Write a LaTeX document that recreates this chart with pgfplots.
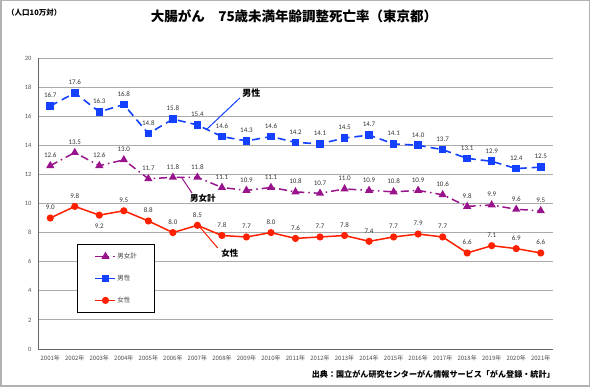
\documentclass[border=0pt]{standalone}
\usepackage{fontspec}
\setmainfont{Carlito}
\newfontfamily\cjk{Noto Sans CJK JP}
\usepackage{pgfplots}
\pgfplotsset{compat=1.18}
\usepackage{pgfplotstable}
\definecolor{cPur}{RGB}{153,20,140}
\definecolor{cBlu}{RGB}{20,64,255}
\definecolor{cRed}{RGB}{255,32,0}
\definecolor{cGrid}{RGB}{170,170,170}
\definecolor{cFrame}{RGB}{178,178,178}

\pgfplotstableread{
x y dy
0 12.6 10.5
1 13.5 10.5
2 12.6 10.5
3 13.0 10.5
4 11.7 10.5
5 11.8 10.5
6 11.8 10.5
7 11.1 10.5
8 10.9 10.5
9 11.1 10.5
10 10.8 10.5
11 10.7 10.5
12 11.0 10.5
13 10.9 10.5
14 10.8 10.5
15 10.9 10.5
16 10.6 10.5
17 9.8 10.5
18 9.9 10.5
19 9.6 10.5
20 9.5 10.5
}\total

\pgfplotstableread{
x y dy
0 16.7 10.5
1 17.6 10.5
2 16.3 10.5
3 16.8 10.5
4 14.8 10.5
5 15.8 10.5
6 15.4 10.5
7 14.6 10.5
8 14.3 10.5
9 14.6 10.5
10 14.2 10.5
11 14.1 10.5
12 14.5 10.5
13 14.7 10.5
14 14.1 10.5
15 14.0 10.5
16 13.7 10.5
17 13.1 10.5
18 12.9 10.5
19 12.4 10.5
20 12.5 10.5
}\male

\pgfplotstableread{
x y dy
0 9.0 10.5
1 9.8 10.5
2 9.2 -11
3 9.5 10.5
4 8.8 10.5
5 8.0 10.5
6 8.5 10.5
7 7.8 10.5
8 7.7 10.5
9 8.0 10.5
10 7.6 10.5
11 7.7 10.5
12 7.8 10.5
13 7.4 10.5
14 7.7 10.5
15 7.9 10.5
16 7.7 10.5
17 6.6 10.5
18 7.1 10.5
19 6.9 10.5
20 6.6 10.5
}\female

\begin{document}
\begin{tikzpicture}[x=1pt,y=1pt]
\useasboundingbox (0,0) rectangle (590,387);
\draw[cFrame, line width=1.5pt] (0.75,0.75) rectangle (589.25,386.25);
\begin{axis}[
  at={(38pt,38pt)}, anchor=south west,
  scale only axis, width=515pt, height=291pt,
  xmin=-0.5, xmax=20.5, ymin=0, ymax=20,
  enlargelimits=false, clip=false,
  axis lines=left,
  axis line style={-, draw=black!60, line width=0.8pt},
  ytick={0,2,...,20},
  xtick={0,...,20},
  xticklabels={2001年,2002年,2003年,2004年,2005年,2006年,2007年,2008年,2009年,2010年,2011年,2012年,2013年,2014年,2015年,2016年,2017年,2018年,2019年,2020年,2021年},
  ymajorgrids,
  grid style={cGrid, line width=0.8pt},
  major tick length=0pt,
  /pgf/number format/assume math mode=true,
  yticklabel style={font=\fontsize{6.5}{7}\selectfont, text=black!65, xshift=-3pt},
  xticklabel style={font=\cjk\fontsize{6}{7}\selectfont, text=black!70, yshift=-3pt},
  legend image code/.code={\draw[mark repeat=2,mark phase=2,#1] plot coordinates {(0pt,0pt) (10pt,0pt) (20pt,0pt)};},
  legend style={at={(axis cs:1.1,7.22)}, anchor=north west, draw=black, line width=0.9pt,
     inner xsep=17pt, inner ysep=8pt, row sep=14pt,
     font=\cjk\fontsize{6.5}{7}\selectfont, text=black!75,
     nodes={inner sep=1pt, text height=5pt, text depth=1pt},
     /tikz/every even column/.append style={column sep=3pt}},
  legend cell align=left,
  nodes near coords={\pgfmathprintnumber[fixed,fixed zerofill,precision=1]{\pgfplotspointmeta}},
]
\addplot[cPur, line width=1.5pt, dash pattern=on 8pt off 4pt on 1.5pt off 4pt,
  mark=triangle*, mark size=3.3pt, mark options={solid},
  visualization depends on={\thisrow{dy}\as\dy},
  nodes near coords style={anchor=center, yshift=\dy pt, font=\fontsize{7}{8}\selectfont, text=black!80}]
  table[x=x,y=y]{\total};
\addlegendentry{男女計}
\addplot[cBlu, line width=1.6pt, dash pattern=on 8pt off 5pt,
  mark=square*, mark size=3pt, mark options={solid},
  visualization depends on={\thisrow{dy}\as\dy},
  nodes near coords style={anchor=center, yshift=\dy pt, font=\fontsize{7}{8}\selectfont, text=black!80}]
  table[x=x,y=y]{\male};
\addlegendentry{男性}
\addplot[cRed, line width=1.5pt,
  mark=*, mark size=2.8pt, mark options={solid},
  visualization depends on={\thisrow{dy}\as\dy},
  nodes near coords style={anchor=center, yshift=\dy pt, font=\fontsize{7}{8}\selectfont, text=black!80}]
  table[x=x,y=y]{\female};
\addlegendentry{女性}
\draw[cBlu, line width=1pt] (axis cs:6.39,15.12) -- (axis cs:7.73,17.25);
\node[font=\cjk\bfseries\fontsize{9}{10}\selectfont, inner sep=0pt] at (axis cs:8.2,17.6) {男性};
\draw[cPur, line width=1pt] (axis cs:5.37,11.75) -- (axis cs:5.78,10.72);
\node[font=\cjk\bfseries\fontsize{8.5}{10}\selectfont, inner sep=0pt] at (axis cs:6.22,10.38) {男女計};
\draw[cRed, line width=1pt] (axis cs:6.10,8.38) -- (axis cs:6.83,6.94);
\node[font=\cjk\bfseries\fontsize{8.5}{10}\selectfont, inner sep=0pt] at (axis cs:7.32,6.6) {女性};
\end{axis}
\node[font=\cjk\bfseries\fontsize{13.5}{15}\selectfont, inner sep=0pt] at (294,371) {大腸がん　75歳未満年齢調整死亡率（東京都）};
\node[anchor=west, font=\cjk\bfseries\fontsize{7.5}{8}\selectfont, inner sep=0pt] at (7,374) {（人口10万対）};
\node[anchor=east, font=\cjk\bfseries\fontsize{8.1}{9}\selectfont, inner sep=0pt] at (555,12.5) {出典：国立がん研究センターがん情報サービス「がん登録・統計」};
\end{tikzpicture}
\end{document}
